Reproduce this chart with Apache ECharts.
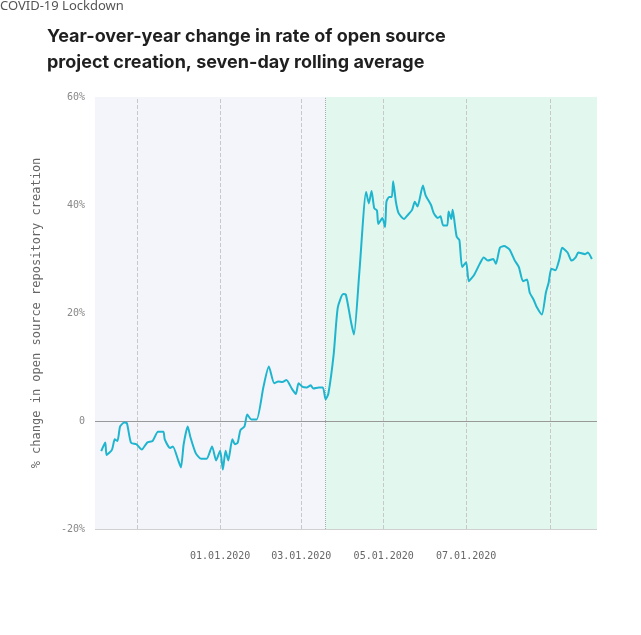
<!DOCTYPE html>
<html><head><meta charset="utf-8">
<script src="https://cdn.jsdelivr.net/npm/echarts@6/dist/echarts.min.js"></script>
<style>html,body{margin:0;padding:0;background:#fff}#c{width:641px;height:635px}</style>
</head><body><div id="c"></div>
<script>
// days since 2019-10-01
const days = [4,7,8,12,14,16,18,21,23,26,30,34,38,42,46,50,51,55,57,61,63,65,68,70,74,78,82,86,89,92,94,96,98,101,103,105,107,110,112,115,119,124,128,132,135,138,141,145,148,150,153,156,159,161,165,168,170,172,176,179,183,185,189,191,195,200,202,204,206,208,209,212,214,215,217,219,220,222,224,228,231,234,236,238,242,244,248,250,253,255,257,260,261,263,264,265,267,269,271,274,276,280,284,287,290,294,296,299,302,306,310,313,316,319,321,324,326,330,333,335,337,340,343,345,349,352,355,357,362,364,367];
const values = [-5.6,-4,-6.3,-5.3,-3.4,-3.7,-1,-0.3,-0.4,-4,-4.3,-5.3,-4,-3.7,-2,-2,-3.4,-5,-4.7,-7.3,-8.6,-4.3,-1,-3,-6,-7,-7,-4.7,-7.3,-5.5,-9,-5.5,-7.3,-3.4,-4.3,-4,-1.7,-1,1.2,0.3,0.3,6.3,10.1,7,7.3,7.2,7.6,6,5,7,6.3,6.2,6.6,6,6.2,6.2,4,5,12.4,21,23.5,23.4,18.1,16,27.6,42.4,40.3,42.6,39.4,39,36.5,37.6,35.9,40.6,41.5,41.5,44.4,40.6,38.5,37.4,38.2,39.1,40.6,39.7,43.6,41.8,40,38.5,37.6,37.9,36.2,36.2,38.8,37.4,39.1,37.6,34.1,33.5,28.5,29.4,25.9,27.1,29.1,30.3,29.7,30,29.1,32.1,32.4,31.8,29.7,28.5,25.9,26.2,23.8,22.4,21.2,19.7,23.8,25.6,28.2,27.9,30,32.1,31.2,29.7,30.3,31.2,30.9,31.2,30];
const tickDates = ['2019-11-01','2020-01-01','2020-03-01','2020-05-01','2020-07-01','2020-09-01'];
const yTicks = [-20,0,20,40,60];
const lockdownStart = '2020-03-19';
const DAY = 86400000;
const base = Date.UTC(2019,9,1);
const ts = s => Date.UTC(+s.slice(0,4), +s.slice(5,7)-1, +s.slice(8,10));
const data = days.map((d,i)=>[base+d*DAY, values[i]]);
const xMin = base - 0.6*DAY, xMax = base + 370.8*DAY;
const mono = 'DejaVu Sans Mono';
const fmt = v=>{const d=new Date(v);const p=n=>String(n).padStart(2,'0');return p(d.getUTCMonth()+1)+'.'+p(d.getUTCDate())+'.'+d.getUTCFullYear();};
const chart = echarts.init(document.getElementById('c'));
chart.setOption({
  animation:false,
  title:{text:'Year-over-year change in rate of open source\nproject creation, seven-day rolling average',left:42,top:19,
    textStyle:{fontFamily:'Inter',fontSize:18,fontWeight:'bold',color:'#1f1f1f',lineHeight:26}},
  grid:{left:95,right:44,top:97,bottom:106},
  xAxis:{type:'value',min:xMin,max:xMax,
    axisLine:{show:false},axisTick:{show:false},splitLine:{show:false},
    axisLabel:{customValues:tickDates.map(ts),showMinLabel:false,showMaxLabel:false,fontFamily:mono,fontSize:10,color:'#666',margin:22,formatter:fmt}},
  yAxis:{type:'value',min:-20,max:60,interval:20,
    name:'% change in open source repository creation',nameLocation:'middle',nameGap:52,
    nameTextStyle:{fontFamily:mono,fontSize:12,color:'#666'},
    axisLine:{show:false},axisTick:{show:false},
    splitLine:{lineStyle:{color:'#d0d0d0'}},
    axisLabel:{fontFamily:mono,fontSize:10,color:'#888',margin:10,formatter:v=>v===0?'0':v+'%'}},
  series:[{type:'line',data:data,showSymbol:false,smooth:0.2,
    lineStyle:{color:'#1fb5cf',width:2},itemStyle:{color:'#1fb5cf'},z:5,
    markArea:{silent:true,data:[
      [{xAxis:xMin,itemStyle:{color:'#f4f4fb'}},{xAxis:ts(lockdownStart)}],
      [{xAxis:ts(lockdownStart),itemStyle:{color:'#e2f7ee'},label:{show:true,position:'insideTopLeft',distance:[11,8],
        formatter:'COVID-19 Lockdown',fontFamily:'Noto Sans',fontSize:13,color:'#555'}},{xAxis:xMax}]
    ]},
    markLine:{silent:true,symbol:'none',label:{show:false},data:[
      ...tickDates.map(d=>({xAxis:ts(d),lineStyle:{color:'#c8c8c8',type:'dashed',width:1}})),
      {xAxis:ts(lockdownStart),lineStyle:{color:'#aaa',type:'dotted',width:1}},
      {yAxis:0,lineStyle:{color:'#999',type:'solid',width:1}}
    ]}
  }]
});
</script></body></html>
